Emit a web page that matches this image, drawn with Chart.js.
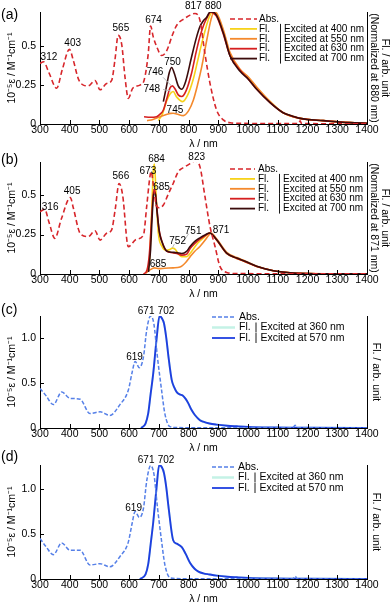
<!DOCTYPE html>
<html><head><meta charset="utf-8">
<script src="https://cdn.jsdelivr.net/npm/chart.js@4.4.1/dist/chart.umd.min.js"></script>
<style>
body{margin:0;background:#fff;width:392px;height:605px;overflow:hidden;position:relative;}
canvas{position:absolute;left:0;}
</style>
</head><body>
<canvas id="ca" width="392" height="150" style="top:0px"></canvas>
<canvas id="cb" width="392" height="160" style="top:140px"></canvas>
<canvas id="cc" width="392" height="164" style="top:290px"></canvas>
<canvas id="cd" width="392" height="165" style="top:440px"></canvas>
<script>
// ---------- shared axis data ----------
const xTicks = [300,400,500,600,700,800,900,1000,1100,1200,1300,1400];
const yTicksAB = [0, 0.25, 0.5];
const yTickLabelsAB = ['0', '0.25', '0.5'];
const yTicksCD = [0, 0.5, 1.0];
const yTickLabelsCD = ['0', '0.5', '1.0'];
const xTitle = 'λ / nm';
const yTitle = '10⁻⁵ε / M⁻¹cm⁻¹';

// ---------- panel (a) ----------
const absA_nm  = [300,312,330,356,375,399,412,429,446,462,485,502,524,541,552,563,575,586,597,612,636,650,664,672,681,692,709,726,745,760,788,805,821,838,855,872,894,917,940,980,1050,1150,1170,1175,1180,1250,1400];
const absA_val = [0.39,0.40,0.33,0.23,0.35,0.48,0.41,0.29,0.25,0.245,0.28,0.22,0.26,0.28,0.41,0.57,0.51,0.30,0.165,0.23,0.25,0.28,0.45,0.63,0.56,0.50,0.44,0.47,0.57,0.635,0.68,0.70,0.71,0.667,0.45,0.26,0.09,0.026,0.008,0.004,0.003,0.003,0.003,0.02,0.003,0.002,0.001];
const flA400_nm  = [698,712,725,738,748,760,780,797,815,830,844,858,870,880,894,917,939,973,1001,1029,1074,1118,1175,1253,1343,1400];
const flA400_val = [0.03,0.09,0.20,0.27,0.29,0.24,0.20,0.26,0.395,0.56,0.72,0.86,0.96,1.0,0.97,0.82,0.62,0.48,0.41,0.32,0.20,0.10,0.05,0.03,0.012,0.006];
const flA550_nm  = [660,680,704,725,740,748,760,782,800,816,830,844,861,875,885,894,917,939,973,1001,1029,1074,1118,1175,1253,1343,1400];
const flA550_val = [0.03,0.04,0.065,0.085,0.095,0.096,0.09,0.075,0.12,0.215,0.35,0.51,0.75,0.93,1.0,0.99,0.84,0.64,0.49,0.42,0.33,0.20,0.10,0.05,0.03,0.012,0.006];
const flA630_nm  = [650,670,692,705,715,728,737,745,755,765,777,792,810,825,838,850,862,875,882,894,917,939,973,1001,1029,1074,1118,1175,1253,1343,1400];
const flA630_val = [0.065,0.06,0.065,0.09,0.125,0.24,0.32,0.34,0.31,0.26,0.245,0.30,0.455,0.64,0.78,0.88,0.95,1.0,0.99,0.96,0.80,0.61,0.48,0.40,0.31,0.19,0.10,0.05,0.03,0.012,0.006];
const flA700_nm  = [715,725,735,743,752,765,777,790,810,825,838,849,860,872,880,894,917,939,973,1001,1029,1074,1118,1150,1175,1200,1253,1300,1343,1400];
const flA700_val = [0.20,0.33,0.46,0.505,0.45,0.34,0.31,0.38,0.60,0.76,0.87,0.92,0.95,1.0,1.0,0.97,0.81,0.61,0.47,0.40,0.31,0.19,0.10,0.07,0.05,0.04,0.03,0.02,0.012,0.006];
const peakA_text = ['312','403','565','674','817','880','750','746','748','745'];
const peakA_nm   = [330,410,572,682,816,883,746,687,676,754];
const peakA_val  = [0.426,0.522,0.614,0.67,0.756,0.758,0.40,0.33,0.224,0.09];
const legendA = ['Abs.','Fl.|Excited at 400 nm','Fl.|Excited at 550 nm','Fl.|Excited at 630 nm','Fl.|Excited at 700 nm'];

// ---------- panel (b) ----------
const absB_nm  = [300,316,330,350,372,402,412,435,462,485,502,524,541,553,566,578,597,624,648,659,670,674,681,692,700,715,730,748,765,788,805,821,838,855,872,889,905,928,960,1050,1200,1400];
const absB_val = [0.395,0.41,0.33,0.226,0.35,0.485,0.42,0.258,0.237,0.274,0.215,0.258,0.28,0.41,0.574,0.50,0.173,0.22,0.247,0.43,0.62,0.65,0.57,0.43,0.42,0.437,0.50,0.574,0.648,0.68,0.70,0.717,0.68,0.49,0.30,0.173,0.05,0.01,0.003,0.002,0.002,0.001];
const flB400_nm  = [660,668,675,681,685,690,698,710,725,737,745,755,765,777,793,810,830,850,871,894,928,962,990,1029,1085,1141,1200,1253,1400];
const flB400_val = [0.05,0.3,1.4,2.5,2.68,2.0,1.0,0.68,0.58,0.6,0.63,0.6,0.5,0.42,0.42,0.55,0.75,0.88,1.0,0.83,0.50,0.38,0.30,0.18,0.08,0.03,0.01,0.005,0.002];
const flB550_nm  = [655,670,685,700,720,748,771,790,805,820,838,855,866,875,894,928,962,990,1029,1085,1141,1200,1400];
const flB550_val = [0.02,0.10,0.15,0.13,0.14,0.15,0.17,0.28,0.42,0.55,0.67,0.82,0.93,1.0,0.86,0.53,0.40,0.32,0.19,0.08,0.03,0.01,0.002];
const flB630_nm  = [648,660,668,675,681,686,692,700,710,726,745,760,777,793,805,820,838,855,871,894,928,962,990,1029,1085,1141,1200,1253,1400];
const flB630_val = [0.0,0.1,0.5,1.3,1.95,2.05,1.7,1.1,0.8,0.56,0.52,0.50,0.46,0.48,0.62,0.74,0.85,0.93,1.0,0.83,0.50,0.38,0.30,0.18,0.08,0.03,0.01,0.005,0.002];
const flB700_nm  = [665,672,678,683,688,694,702,712,726,745,760,777,793,805,820,838,855,871,894,928,962,990,1029,1085,1141,1200,1253,1400];
const flB700_val = [0.05,0.6,1.5,2.0,1.95,1.5,1.0,0.75,0.56,0.53,0.52,0.50,0.55,0.67,0.79,0.88,0.95,1.0,0.84,0.51,0.39,0.31,0.19,0.08,0.03,0.01,0.005,0.002];
const peakB_text = ['316','405','566','673','684','685','823','685','752','751','871'];
const peakB_nm   = [334,408,572,663,692,709,827,697,763,815,909];
const peakB_val  = [0.426,0.527,0.617,0.653,0.728,0.547,0.737,0.063,0.21,0.272,0.278];
const legendB = ['Abs.','Fl.|Excited at 400 nm','Fl.|Excited at 550 nm','Fl.|Excited at 630 nm','Fl.|Excited at 700 nm'];

// ---------- panel (c) ----------
const absC_nm  = [300,320,345,373,401,435,468,502,535,569,597,610,620,634,648,659,672,683,695,709,720,737,760,800,900,1000,1100,1150,1158,1166,1200,1300,1400];
const absC_val = [0.44,0.36,0.26,0.40,0.33,0.32,0.16,0.18,0.14,0.26,0.42,0.62,0.74,0.67,0.79,1.09,1.245,1.16,0.79,0.42,0.16,0.015,0.005,0.003,0.002,0.002,0.002,0.002,0.03,0.002,0.002,0.001,0.001];
const flC360_nm  = [640,655,664,672,681,692,702,710,717,725,732,743,752,760,770,780,790,799,810,821,838,849,870,894,930,962,1000,1085,1150,1200,1400];
const flC360_val = [0.0,0.04,0.13,0.3,0.49,0.79,1.0,0.98,0.935,0.8,0.64,0.43,0.36,0.32,0.30,0.29,0.26,0.22,0.16,0.116,0.07,0.056,0.04,0.03,0.02,0.015,0.01,0.005,0.003,0.002,0.001];
const flC570_nm  = [640,655,664,672,681,692,702,710,717,725,732,743,752,760,770,780,790,799,810,821,838,849,870,894,930,962,1000,1085,1150,1200,1400];
const flC570_val = [0.0,0.04,0.13,0.3,0.49,0.79,1.0,0.98,0.935,0.8,0.64,0.43,0.36,0.32,0.30,0.29,0.26,0.22,0.16,0.116,0.07,0.056,0.04,0.03,0.02,0.015,0.01,0.005,0.003,0.002,0.001];
const peakC_text = ['671','702','619'];
const peakC_nm   = [657,724,618];
const peakC_val  = [1.30,1.30,0.79];
const legendC = ['Abs.','Fl.|Excited at 360 nm','Fl.|Excited at 570 nm'];

// ---------- panel (d) ----------
const absD_nm  = [300,320,345,373,401,435,468,502,535,569,597,610,620,634,648,659,672,683,695,709,720,737,760,800,900,1000,1100,1150,1158,1166,1200,1300,1400];
const absD_val = [0.45,0.36,0.27,0.40,0.32,0.32,0.155,0.17,0.136,0.25,0.41,0.62,0.75,0.685,0.785,1.09,1.26,1.17,0.80,0.42,0.16,0.015,0.005,0.003,0.002,0.002,0.002,0.002,0.03,0.002,0.002,0.001,0.001];
const flD360_nm  = [636,655,664,672,681,692,701,710,717,725,732,748,760,777,790,805,820,833,849,870,894,930,962,1000,1085,1150,1200,1400];
const flD360_val = [0.0,0.04,0.13,0.3,0.5,0.8,1.0,0.98,0.93,0.8,0.64,0.34,0.31,0.28,0.22,0.14,0.09,0.065,0.05,0.04,0.03,0.02,0.015,0.01,0.005,0.003,0.002,0.001];
const flD570_nm  = [636,655,664,672,681,692,701,710,717,725,732,748,760,777,790,805,820,833,849,870,894,930,962,1000,1085,1150,1200,1400];
const flD570_val = [0.0,0.04,0.13,0.3,0.5,0.8,1.0,0.98,0.93,0.8,0.64,0.34,0.31,0.28,0.22,0.14,0.09,0.065,0.05,0.04,0.03,0.02,0.015,0.01,0.005,0.003,0.002,0.001];
const peakD_text = ['671','702','619'];
const peakD_nm   = [657,724,615];
const peakD_val  = [1.32,1.32,0.79];
const legendD = ['Abs.','Fl.|Excited at 360 nm','Fl.|Excited at 570 nm'];

// ---------- styles ----------
const FAM = '"Liberation Sans", Arial, Helvetica, sans-serif';
Chart.defaults.font.family = FAM;
const C_ABS = '#d7262b', C_400 = '#f7d21a', C_550 = '#f4892c', C_630 = '#d51f1f', C_700 = '#3b0b0b';
const C_ABSB = '#5680e8', C_360 = '#c4f2e6', C_570 = '#1f3fe0';

function pts(nm, val) { return nm.map((x, i) => ({x: x, y: val[i]})); }

function overlay(cfg) {
  return {
    id: 'ov' + cfg.id,
    afterDraw(chart) {
      const c = chart.ctx, xs = chart.scales.x, ys = chart.scales.y, ca = chart.chartArea;
      c.save();
      // inward tick marks
      c.strokeStyle = '#000'; c.lineWidth = 1; c.setLineDash([]);
      c.beginPath();
      xTicks.forEach(v => { const px = Math.round(xs.getPixelForValue(v)) + 0.5; c.moveTo(px, ca.bottom); c.lineTo(px, ca.bottom - 4); });
      cfg.yTicks.forEach(v => { const py = Math.round(ys.getPixelForValue(v)) + 0.5; c.moveTo(ca.left, py); c.lineTo(ca.left + 4, py); });
      c.stroke();
      // leader lines
      c.strokeStyle = '#b8b8b8'; c.lineWidth = 1;
      (cfg.leaders || []).forEach(l => {
        c.beginPath();
        c.moveTo(xs.getPixelForValue(l[0]), ys.getPixelForValue(l[1]));
        c.lineTo(xs.getPixelForValue(l[2]), ys.getPixelForValue(l[3]));
        c.stroke();
      });
      // peak labels
      c.fillStyle = '#000'; c.font = '10px ' + FAM; c.textAlign = 'center'; c.textBaseline = 'middle';
      cfg.peakText.forEach((t, i) => c.fillText(t, xs.getPixelForValue(cfg.peakNm[i]), ys.getPixelForValue(cfg.peakVal[i])));
      // legend
      const L = cfg.leg;
      c.textAlign = 'left'; c.font = L.font + 'px ' + FAM;
      cfg.legend.forEach((t, i) => {
        const s = cfg.legStyles[i];
        const y = L.y0 + i * L.dy;
        c.strokeStyle = s.color; c.lineWidth = s.width; c.setLineDash(s.dash || []);
        c.beginPath(); c.moveTo(L.x0, y); c.lineTo(L.x1, y); c.stroke();
        c.setLineDash([]);
        c.fillStyle = '#000';
        const parts = t.split('|');
        if (parts.length === 1) { c.fillText(parts[0], L.tx, y); }
        else {
          c.fillText(parts[0], L.tx, y);
          c.strokeStyle = '#000'; c.lineWidth = 0.9;
          c.beginPath(); c.moveTo(L.tx + L.bar + 0.5, y - 5); c.lineTo(L.tx + L.bar + 0.5, y + 5); c.stroke();
          c.fillText(parts[1], L.tx + L.ex, y);
        }
      });
      // panel letter
      c.font = '14px ' + FAM; c.fillStyle = '#000'; c.textAlign = 'left';
      c.fillText(cfg.letter, 1, cfg.letterY);
      c.restore();
    }
  };
}

function build(cfg) {
  const datasets = cfg.series.map(s => ({
    data: pts(s.nm, s.val), yAxisID: s.axis, borderColor: s.color, borderWidth: s.width,
    borderDash: s.dash || [], pointRadius: 0, fill: false, cubicInterpolationMode: 'monotone', order: s.order
  }));
  const tickFont = {size: 10.5, family: FAM};
  const titleFont = {size: 10.5, family: FAM, lineHeight: 1.1};
  new Chart(document.getElementById(cfg.id), {
    type: 'line',
    data: {datasets},
    options: {
      responsive: false, animation: false, devicePixelRatio: 1,
      layout: {padding: {top: cfg.padTop, left: 0, right: 0, bottom: 0}},
      plugins: {legend: {display: false}, tooltip: {enabled: false}, title: {display: false}},
      scales: {
        x: {
          type: 'linear', min: 300, max: 1400, position: 'bottom',
          afterBuildTicks: s => { s.ticks = xTicks.map(v => ({value: v})); },
          ticks: {font: tickFont, color: '#000', padding: 0, maxRotation: 0, autoSkip: false, callback: v => String(v)},
          grid: {display: false, drawTicks: false},
          border: {color: '#000', width: 1},
          title: {display: true, text: xTitle, font: titleFont, color: '#000', padding: {top: 0, bottom: 0}},
          afterFit: s => { s.height = 26; }
        },
        y: {
          type: 'linear', min: 0, max: cfg.yMax, position: 'left',
          afterBuildTicks: s => { s.ticks = cfg.yTicks.map(v => ({value: v})); },
          ticks: {font: tickFont, color: '#000', padding: 4,
            callback: v => { const i = cfg.yTicks.findIndex(t => Math.abs(t - v) < 1e-9); return i >= 0 ? cfg.yTickLabels[i] : ''; }},
          grid: {display: false, drawTicks: false},
          border: {color: '#000', width: 1},
          title: {display: true, text: yTitle, font: titleFont, color: '#000', padding: {top: 6, bottom: 0}},
          afterFit: s => { s.width = 40; }
        },
        y2: {
          type: 'linear', min: 0, max: cfg.y2Max, position: 'right',
          ticks: {display: false},
          grid: {display: false, drawTicks: false},
          border: {color: '#000', width: 1},
          title: {display: true, text: cfg.rightTitle, font: titleFont, color: '#000', padding: {top: cfg.rightPad, bottom: 0}},
          afterFit: s => { s.width = 25; }
        }
      }
    },
    plugins: [overlay(cfg)]
  });
}

const stylesAB = [
  {color: C_ABS, width: 1.6, dash: [5, 3]},
  {color: C_400, width: 1.8}, {color: C_550, width: 1.8}, {color: C_630, width: 1.8}, {color: C_700, width: 1.8}
];
const stylesCD = [
  {color: C_ABSB, width: 1.5, dash: [4, 2]},
  {color: C_360, width: 2.5}, {color: C_570, width: 1.8}
];

build({
  id: 'ca', padTop: 12, yMax: 0.72, y2Max: 1.0, yTicks: yTicksAB, yTickLabels: yTickLabelsAB,
  rightTitle: ['Fl. / arb. unit', '(Normalized at 880 nm)'], rightPad: 1.2,
  series: [
    {nm: absA_nm, val: absA_val, axis: 'y', color: C_ABS, width: 1.6, dash: [5, 3], order: 0},
    {nm: flA400_nm, val: flA400_val, axis: 'y2', color: C_400, width: 1.6, order: 4},
    {nm: flA550_nm, val: flA550_val, axis: 'y2', color: C_550, width: 1.6, order: 3},
    {nm: flA630_nm, val: flA630_val, axis: 'y2', color: C_630, width: 1.6, order: 2},
    {nm: flA700_nm, val: flA700_val, axis: 'y2', color: C_700, width: 1.6, order: 1}
  ],
  peakText: peakA_text, peakNm: peakA_nm, peakVal: peakA_val,
  leaders: [[714, 0.30, 742, 0.246], [714, 0.222, 740, 0.212]],
  legend: legendA, legStyles: stylesAB,
  leg: {x0: 230, x1: 257, tx: 259, y0: 19, dy: 9.9, bar: 21, ex: 25, font: 10},
  letter: '(a)', letterY: 15
});

build({
  id: 'cb', padTop: 22, yMax: 0.71, y2Max: 2.73, yTicks: yTicksAB, yTickLabels: yTickLabelsAB,
  rightTitle: ['Fl. / arb. unit', '(Normalized at 871 nm)'], rightPad: 1.2,
  series: [
    {nm: absB_nm, val: absB_val, axis: 'y', color: C_ABS, width: 1.6, dash: [5, 3], order: 0},
    {nm: flB400_nm, val: flB400_val, axis: 'y2', color: C_400, width: 1.6, order: 4},
    {nm: flB550_nm, val: flB550_val, axis: 'y2', color: C_550, width: 1.6, order: 3},
    {nm: flB630_nm, val: flB630_val, axis: 'y2', color: C_630, width: 1.6, order: 2},
    {nm: flB700_nm, val: flB700_val, axis: 'y2', color: C_700, width: 1.6, order: 1}
  ],
  peakText: peakB_text, peakNm: peakB_nm, peakVal: peakB_val,
  leaders: [[752, 0.19, 745, 0.165], [800, 0.255, 780, 0.2]],
  legend: legendB, legStyles: stylesAB,
  leg: {x0: 230, x1: 255, tx: 258, y0: 29, dy: 9.9, bar: 21, ex: 25, font: 10},
  letter: '(b)', letterY: 20
});

build({
  id: 'cc', padTop: 26, yMax: 1.245, y2Max: 1.0, yTicks: yTicksCD, yTickLabels: yTickLabelsCD,
  rightTitle: 'Fl. / arb. unit', rightPad: 10,
  series: [
    {nm: absC_nm, val: absC_val, axis: 'y', color: C_ABSB, width: 1.5, dash: [4, 2], order: 0},
    {nm: flC360_nm, val: flC360_val, axis: 'y2', color: C_360, width: 2, order: 2},
    {nm: flC570_nm, val: flC570_val, axis: 'y2', color: C_570, width: 1.9, order: 1}
  ],
  peakText: peakC_text, peakNm: peakC_nm, peakVal: peakC_val,
  legend: legendC, legStyles: stylesCD,
  leg: {x0: 212, x1: 235, tx: 239, y0: 27, dy: 10.5, bar: 16.5, ex: 21.5, font: 10.5},
  letter: '(c)', letterY: 20
});

build({
  id: 'cd', padTop: 25, yMax: 1.267, y2Max: 1.0, yTicks: yTicksCD, yTickLabels: yTickLabelsCD,
  rightTitle: 'Fl. / arb. unit', rightPad: 10,
  series: [
    {nm: absD_nm, val: absD_val, axis: 'y', color: C_ABSB, width: 1.5, dash: [4, 2], order: 0},
    {nm: flD360_nm, val: flD360_val, axis: 'y2', color: C_360, width: 2, order: 2},
    {nm: flD570_nm, val: flD570_val, axis: 'y2', color: C_570, width: 1.9, order: 1}
  ],
  peakText: peakD_text, peakNm: peakD_nm, peakVal: peakD_val,
  legend: legendD, legStyles: stylesCD,
  leg: {x0: 212, x1: 234, tx: 238, y0: 27, dy: 10.5, bar: 16.5, ex: 21.5, font: 10.5},
  letter: '(d)', letterY: 17.5
});
</script>
</body></html>
